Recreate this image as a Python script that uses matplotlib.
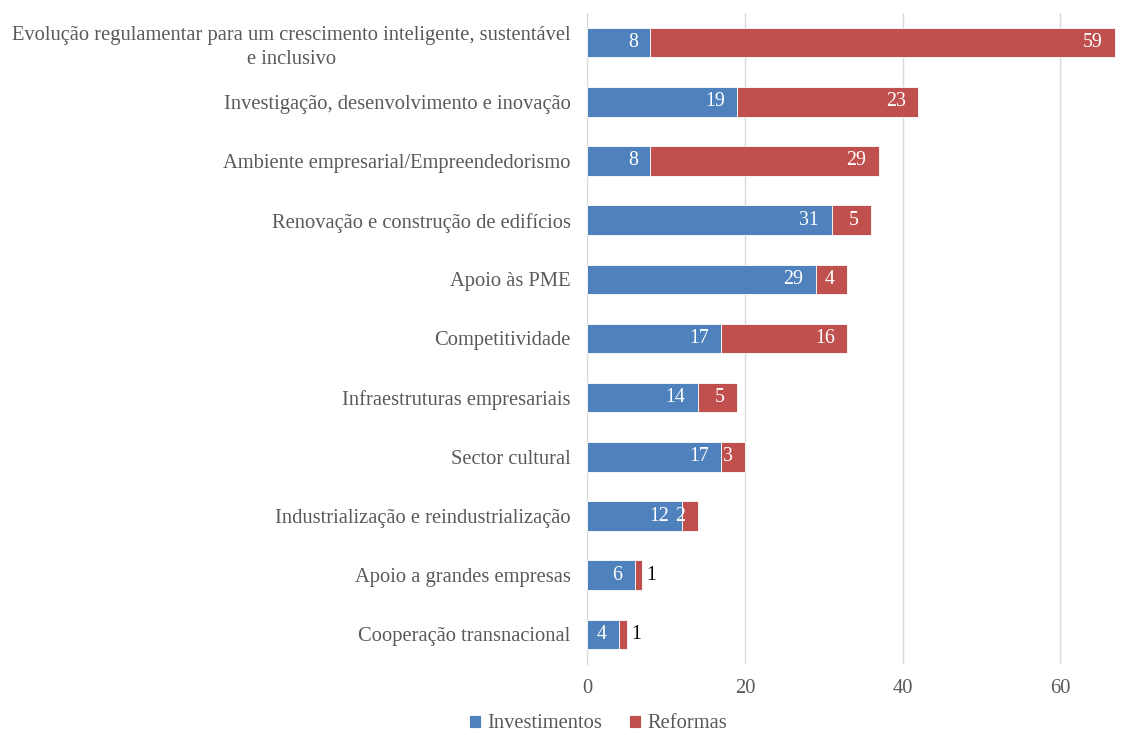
import matplotlib
matplotlib.use("Agg")
import matplotlib.pyplot as plt

plt.rcParams['font.family'] = ['Liberation Serif', 'DejaVu Serif']

# categorias de cima para baixo
categorias = [
    "Evolução regulamentar para um crescimento inteligente, sustentável\ne inclusivo",
    "Investigação, desenvolvimento e inovação",
    "Ambiente empresarial/Empreendedorismo",
    "Renovação e construção de edifícios",
    "Apoio às PME",
    "Competitividade",
    "Infraestruturas empresariais",
    "Sector cultural",
    "Industrialização e reindustrialização",
    "Apoio a grandes empresas",
    "Cooperação transnacional",
]
investimentos = [8, 19, 8, 31, 29, 17, 14, 17, 12, 6, 4]
reformas = [59, 23, 29, 5, 4, 16, 5, 3, 2, 1, 1]

cor_inv = '#4F81BD'
cor_ref = '#C0504D'
cinza = '#595959'

fig = plt.figure(figsize=(11.21, 7.35), dpi=100)
ax = fig.add_axes([587.3 / 1121, 1 - 664 / 735, 1 - 587.3 / 1121, 651 / 735])

y = list(range(len(categorias)))
b1 = ax.barh(y, investimentos, height=0.5, color=cor_inv, edgecolor='white', linewidth=0.6,
             label='Investimentos', zorder=3)
b2 = ax.barh(y, reformas, left=investimentos, height=0.5, color=cor_ref, edgecolor='white',
             linewidth=0.6, label='Reformas', zorder=3)

# rótulos dos valores
for yi, inv, ref in zip(y, investimentos, reformas):
    ax.annotate(str(inv), (inv, yi), xytext=(-9, 0), textcoords='offset points',
                ha='right', va='center', color='white', fontsize=14.3, zorder=4)
    if ref > 1:
        ax.annotate(str(ref), (inv + ref, yi), xytext=(-9, 0), textcoords='offset points',
                    ha='right', va='center', color='white', fontsize=14.3, zorder=4)
    else:
        ax.annotate(str(ref), (inv + ref, yi), xytext=(3, 0), textcoords='offset points',
                    ha='left', va='center', color='black', fontsize=14.3, zorder=4)

ax.set_ylim(len(categorias) - 0.5, -0.5)
ax.set_xlim(0, 67.7)
ax.set_xticks([0, 20, 40, 60])
ax.set_yticks(y)
ax.set_yticklabels(categorias, multialignment='center', linespacing=1.35)
ax.tick_params(axis='y', length=0, pad=12, labelsize=14.8, labelcolor=cinza)
ax.tick_params(axis='x', length=0, pad=11, labelsize=14.8, labelcolor=cinza)

ax.grid(axis='x', color='#D9D9D9', linewidth=1, zorder=0)
for s in ['top', 'right', 'bottom']:
    ax.spines[s].set_visible(False)
ax.spines['left'].set_color('#D9D9D9')

fig.legend(handles=[b1, b2], loc='center', bbox_to_anchor=(598 / 1121, 1 - 724 / 735),
           ncol=2, frameon=False, fontsize=14.8, labelcolor=cinza,
           handlelength=0.6, handleheight=0.6, handletextpad=0.3, columnspacing=1.3,
           borderpad=0.2)

fig.savefig('out.png', dpi=100)
